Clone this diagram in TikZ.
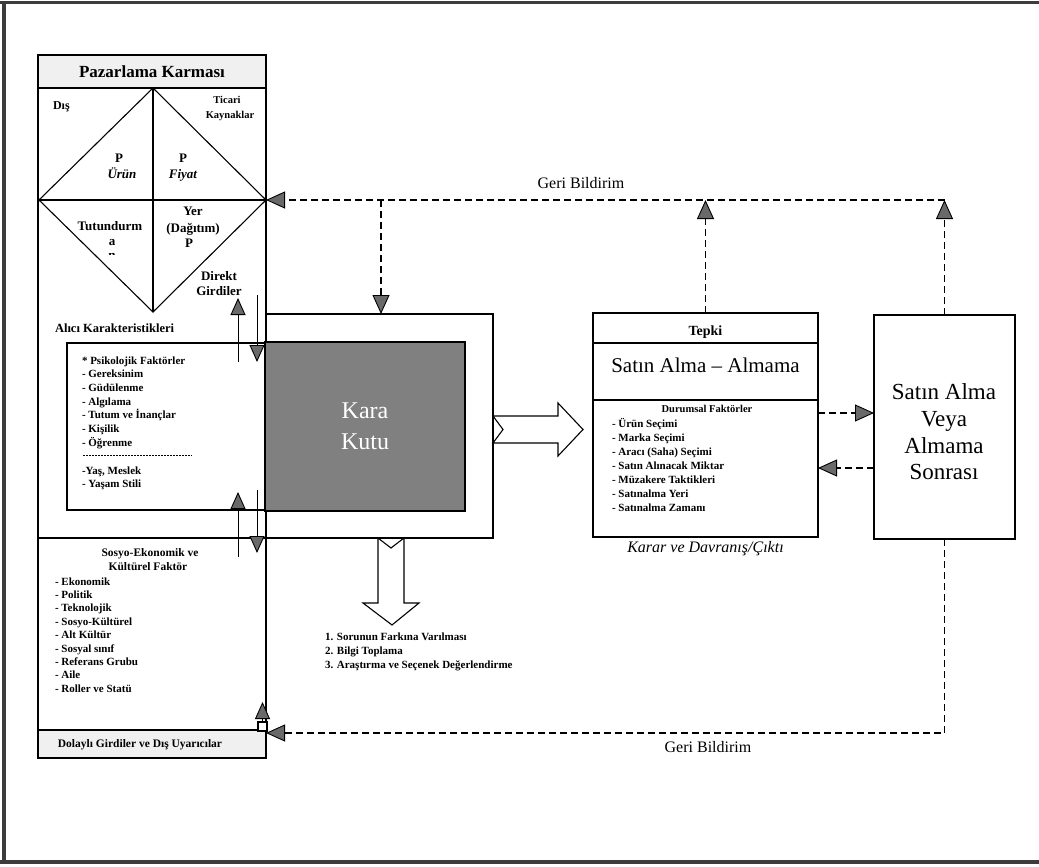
\documentclass[tikz,border=0pt]{standalone}
\usepackage{fontspec}
\setmainfont{Liberation Serif}
\usetikzlibrary{arrows.meta,calc}

\definecolor{speck}{RGB}{105,105,105}
\definecolor{boxgray}{RGB}{128,128,128}
\definecolor{pale}{RGB}{240,240,240}
\definecolor{framecol}{RGB}{60,60,60}

\tikzset{
  ln/.style={line width=1.1pt},
  fb/.style={line width=1.3pt, dash pattern=on 7pt off 4pt},
  bigtip/.tip={Triangle[length=19pt,width=17pt,fill=speck,line width=0.9pt]},
  smalltip/.tip={Triangle[length=17pt,width=15pt,fill=speck,line width=0.9pt]},
  plain/.style={inner sep=0pt, outer sep=0pt},
  bx/.style={draw, ln, plain},
  sb/.style={plain, font=\fontsize{11}{13.7}\selectfont\bfseries, anchor=base west},
  sbc/.style={plain, font=\fontsize{11.5}{13.7}\selectfont\bfseries, anchor=base},
  dm/.style={plain, font=\fontsize{13}{15}\selectfont\bfseries, anchor=base},
}

\begin{document}
\begin{tikzpicture}[x=1pt,y=-1pt]
\useasboundingbox (0,0) rectangle (1039,867);

% page frame
\fill[framecol] (0,1) rectangle (1039,4.5);
\fill[framecol] (2,1) rectangle (6,864);
\fill[framecol] (0,859.5) rectangle (1039,863.5);

% ---------- left column ----------
\node[bx, minimum width=228pt, minimum height=703pt] (lc) at (152,406.5) {};
\node[bx, fill=pale, minimum width=228pt, minimum height=33pt,
      font=\fontsize{17}{20}\selectfont\bfseries] (pk) at (152,71.5) {Pazarlama Karması};

% marketing mix diamond
\coordinate (dT) at (153,88);
\coordinate (dR) at (266,200);
\coordinate (dB) at (153,312);
\coordinate (dL) at (39,200);
\draw[ln] (dT) -- (dR) -- (dB) -- (dL) -- cycle;
\draw[ln] (dT) -- (dB);
\draw[ln] (dL) -- (dR);

\node[plain, font=\fontsize{12}{14}\selectfont\bfseries, anchor=base west] (dis) at (53,110) {Dış};
\node[plain, font=\fontsize{10.5}{13}\selectfont\bfseries, anchor=base] (tic1) at (227,103) {Ticari};
\node[plain, font=\fontsize{10.5}{13}\selectfont\bfseries, anchor=base] (tic2) at (230,118) {Kaynaklar};

\node[dm] (p1) at (119,162) {P};
\node[dm, font=\fontsize{13}{15}\selectfont\bfseries\itshape] (urun) at (122,178) {Ürün};
\node[dm] (p2) at (183,162) {P};
\node[dm, font=\fontsize{13}{15}\selectfont\bfseries\itshape] (fiyat) at (183,178) {Fiyat};
\node[dm] (tut) at (110,230) {Tutundurm};
\node[dm] (tuta) at (112,245) {a};
\begin{scope}
  \clip (100,249) rectangle (125,254.5);
  \node[dm] (tutn) at (112,259) {n};
\end{scope}
\node[dm] (yer) at (193,215) {Yer};
\node[dm] (dag) at (193,232) {(Dağıtım)};
\node[dm] (p3) at (189,247) {P};
\node[dm] (dir1) at (219,280) {Direkt};
\node[dm] (dir2) at (219,295) {Girdiler};

% buyer characteristics
\node[plain, font=\fontsize{12.5}{15}\selectfont\bfseries, anchor=base west] (ak) at (55,332) {Alıcı Karakteristikleri};
\node[bx, minimum width=198pt, minimum height=167pt] (akb) at (166,426.5) {};
\foreach \t [count=\i] in {{* Psikolojik Faktörler},{- Gereksinim},{- Güdülenme},{- Algılama},{- Tutum ve İnançlar},{- Kişilik},{- Öğrenme}}
  \node[sb] (ps\i) at (82,350.3+13.7*\i) {\t};
\draw[line width=0.8pt, dash pattern=on 2pt off 1pt] (83,455) -- (192,455);
\node[sb] (ym1) at (82,474) {-Yaş, Meslek};
\node[sb] (ym2) at (82,487.5) {- Yaşam Stili};

% socio-economic factors
\node[sbc] (se1) at (150,556) {Sosyo-Ekonomik ve};
\node[sbc] (se2) at (148,570) {Kültürel Faktör};
\foreach \t [count=\i] in {{- Ekonomik},{- Politik},{- Teknolojik},{- Sosyo-Kültürel},{- Alt Kültür},{- Sosyal sınıf},{- Referans Grubu},{- Aile},{- Roller ve Statü}}
  \node[sb] (sf\i) at (55,571.6+13.4*\i) {\t};

% indirect inputs
\node[bx, fill=pale, minimum width=228pt, minimum height=28pt] (dg) at (152,744) {};
\node[plain, font=\fontsize{11.5}{14}\selectfont\bfseries] (dgt) at (140,745) {Dolaylı Girdiler ve Dış Uyarıcılar};
\node[bx, fill=white, minimum width=9pt, minimum height=9pt] (sq) at (262.5,726.5) {};
\draw[line width=1pt, -{smalltip}] (sq.north) -- ++(0,-20);

% ---------- black box ----------
\node[bx, minimum width=227pt, minimum height=224pt] (ko) at (379.5,426) {};
\node[bx, fill=boxgray, minimum width=200pt, minimum height=169pt] (kk) at (365,426.5) {};
\node[plain, text=white, align=center, font=\fontsize{24}{31}\selectfont] (kkt) at (kk.center) {Kara\\Kutu};
\draw[ln] (lc.west |- ko.south) -- (ko.south west);

% direct input arrows
\coordinate (u1s) at (238,362); \coordinate (u1e) at (238,298);
\coordinate (d1s) at (257,295); \coordinate (d1e) at (257,362);
\coordinate (u2s) at (238,557); \coordinate (u2e) at (238,492);
\coordinate (d2s) at (257,490); \coordinate (d2e) at (257,553);
\draw[line width=1pt, -{smalltip}] (u1s) -- (u1e);
\draw[line width=1pt, -{smalltip}] (d1s) -- (d1e);
\draw[line width=1pt, -{smalltip}] (u2s) -- (u2e);
\draw[line width=1pt, -{smalltip}] (d2s) -- (d2e);

% hollow arrow to the response box
\draw[ln, fill=white] (493,416) -- (558,416) -- (558,403) -- (583,429.5) -- (558,456)
   -- (558,443) -- (493,443) -- (503,429.5) -- cycle;
% hollow arrow to the decision steps
\draw[ln, fill=white] (378,538) -- (391,548) -- (404,538) -- (404,603) -- (419,603)
   -- (392,625) -- (363,603) -- (378,603) -- cycle;
\node[sb] (st1) at (325,640) {1. Sorunun Farkına Varılması};
\node[sb] (st2) at (325,654) {2. Bilgi Toplama};
\node[sb] (st3) at (325,668) {3. Araştırma ve Seçenek Değerlendirme};

% ---------- response box ----------
\node[bx, minimum width=225pt, minimum height=224pt] (tp) at (705.5,425) {};
\coordinate (s1) at (593,343); \coordinate (s2) at (593,400);
\draw[ln] (s1) -- (s1 -| tp.east);
\draw[ln] (s2) -- (s2 -| tp.east);
\node[plain, font=\fontsize{14}{16}\selectfont\bfseries, anchor=base] (tpt) at (705.5,335) {Tepki};
\node[plain, font=\fontsize{21}{24}\selectfont, anchor=base] (sam) at (705.5,372) {Satın Alma – Almama};
\node[plain, font=\fontsize{10.5}{13}\selectfont\bfseries, anchor=base] (dur) at (707,412) {Durumsal Faktörler};
\foreach \t [count=\i] in {{- Ürün Seçimi},{- Marka Seçimi},{- Aracı (Saha) Seçimi},{- Satın Alınacak Miktar},{- Müzakere Taktikleri},{- Satınalma Yeri},{- Satınalma Zamanı}}
  \node[sb] (df\i) at (612,413+14*\i) {\t};
\node[plain, font=\fontsize{16}{19}\selectfont\itshape, anchor=base] (kdc) at (705.5,552) {Karar ve Davranış/Çıktı};

% ---------- post-purchase box ----------
\node[bx, minimum width=141pt, minimum height=224pt] (sa) at (944.5,427) {};
\node[plain, align=center, font=\fontsize{23}{26.7}\selectfont] (sat) at (944,432)
  {Satın Alma\\Veya\\Almama\\Sonrası};

\coordinate (a1) at (818,413); \coordinate (a2) at (874,468);
\draw[fb, -{bigtip}] (a1) -- (a1 -| sa.west);
\draw[fb, -{bigtip}] (a2) -- (a2 -| tp.east);

% ---------- feedback loops ----------
\coordinate (fbR) at (sa.north |- dR);
\draw[fb, -{bigtip}] (sa.north) -- (fbR);
\draw[fb, -{bigtip}] (tp.north) -- (tp.north |- dR);
\draw[fb, -{bigtip}] (fbR) -- (dR);
\coordinate (kd) at (381,200);
\draw[fb, -{bigtip}] (kd) -- (kd |- ko.north);
\node[plain, font=\fontsize{16}{19}\selectfont, anchor=base] (gb1) at (581,188) {Geri Bildirim};

\coordinate (fbL) at (266,733);
\draw[fb, -{bigtip}] (sa.south) |- (fbL);
\node[plain, font=\fontsize{16}{19}\selectfont, anchor=base] (gb2) at (708,752) {Geri Bildirim};

\end{tikzpicture}
\end{document}
